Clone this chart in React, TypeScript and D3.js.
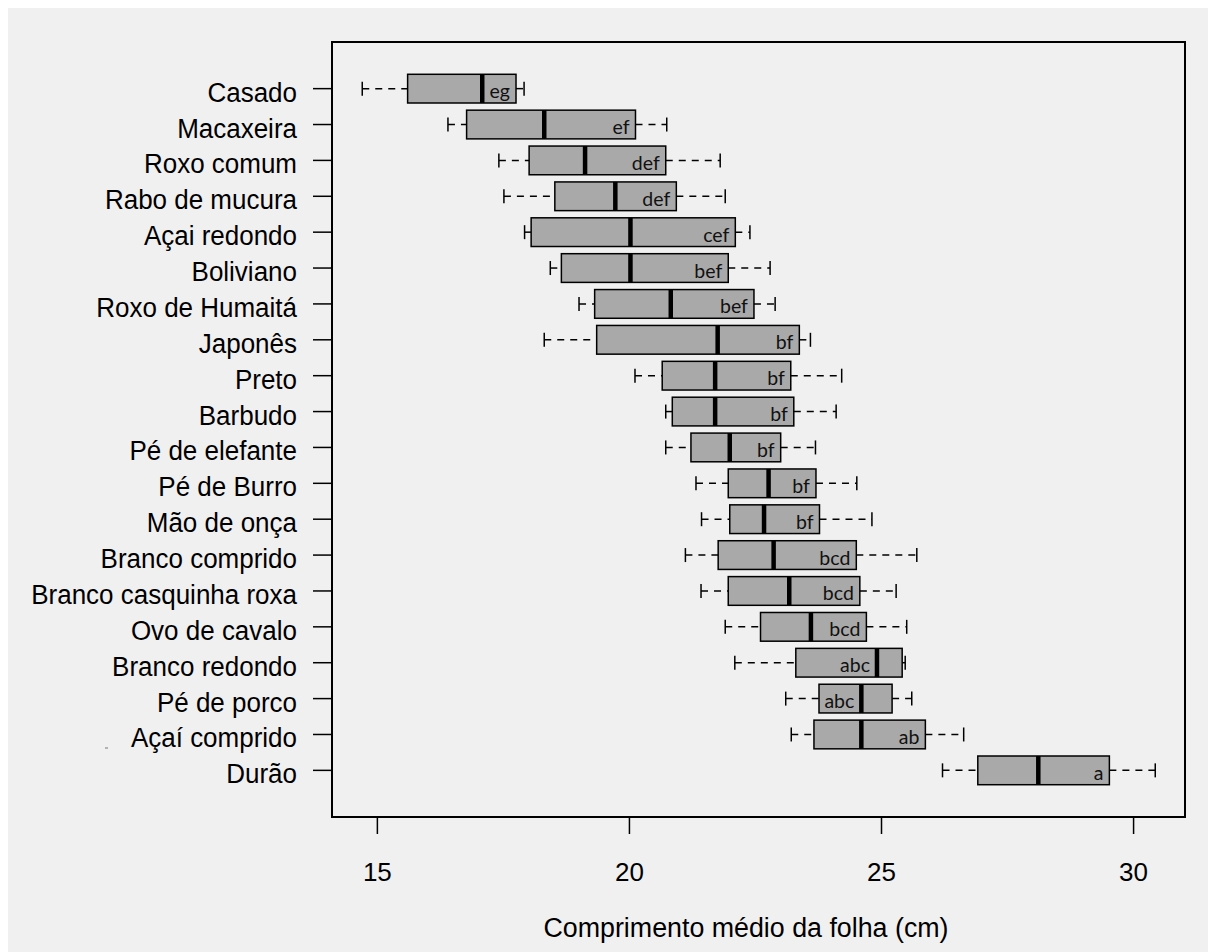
import React from "react";
import * as d3 from "d3";

const categories = [
  "Casado", "Macaxeira", "Roxo comum", "Rabo de mucura", "Açai redondo",
  "Boliviano", "Roxo de Humaitá", "Japonês", "Preto", "Barbudo",
  "Pé de elefante", "Pé de Burro", "Mão de onça", "Branco comprido",
  "Branco casquinha roxa", "Ovo de cavalo", "Branco redondo", "Pé de porco",
  "Açaí comprido", "Durão",
];
const whiskerLow = [14.70, 16.40, 17.41, 17.51, 17.92, 18.43, 19.00, 18.31, 20.11, 20.72, 20.72, 21.32, 21.43, 21.11, 21.42, 21.90, 22.09, 23.10, 23.21, 26.21];
const q1 = [15.60, 16.77, 18.01, 18.52, 18.05, 18.65, 19.31, 19.35, 20.65, 20.85, 21.22, 21.96, 21.99, 21.76, 21.96, 22.60, 23.30, 23.76, 23.66, 26.91];
const median = [17.08, 18.31, 19.12, 19.72, 20.02, 20.02, 20.82, 21.75, 21.70, 21.70, 21.99, 22.76, 22.67, 22.86, 23.17, 23.60, 24.91, 24.60, 24.60, 28.11];
const q3 = [17.75, 20.12, 20.72, 20.93, 22.10, 21.96, 22.47, 23.37, 23.20, 23.26, 23.00, 23.70, 23.77, 24.50, 24.57, 24.70, 25.41, 25.21, 25.87, 29.52];
const whiskerHigh = [17.91, 20.74, 21.80, 21.90, 22.39, 22.79, 22.89, 23.59, 24.21, 24.10, 23.69, 24.51, 24.81, 25.70, 25.29, 25.50, 25.47, 25.60, 26.63, 30.43];
const groupLetters = ["eg", "ef", "def", "def", "cef", "bef", "bef", "bf", "bf", "bf", "bf", "bf", "bf", "bcd", "bcd", "bcd", "abc", "abc", "ab", "a"];
const xTicks = [15, 20, 25, 30];
const xTitle = "Comprimento médio da folha (cm)";

const W = 1208;
const H = 944;
const left = 324; // panel left in svg coords (332 page)
const right = 1177;
const top = 34;
const bottom = 809;

export default function App() {
  const x = d3.scaleLinear().domain([14.1, 31.02]).range([left, right]);
  const y = d3.scaleLinear().domain([-0.3, categories.length + 0.5 + 0.8]).range([top, bottom]);
  const half = (y(1) - y(0)) * 0.4;
  const labelFont = "'Liberation Sans', Arial, Helvetica, sans-serif";
  const letterFont = "Lato, 'Open Sans', sans-serif";

  return (
    <svg width={W} height={H} style={{ display: "block" }}>
      <rect x={0} y={0} width={W} height={H} fill="#f0f0f0" />
      {categories.map((c, i) => {
        const cy = y(i + 1);
        const xl = x(whiskerLow[i]);
        const x1 = x(q1[i]);
        const xm = x(median[i]);
        const x3 = x(q3[i]);
        const xh = x(whiskerHigh[i]);
        const letters = groupLetters[i];
        const estW = letters.length * 10;
        const fitsRight = x3 - xm > estW + 12;
        const tx = fitsRight ? x3 - 6 : xm - 7;
        return (
          <g key={c}>
            <line x1={xl} x2={x1} y1={cy} y2={cy} stroke="#000" strokeWidth={1.5} strokeDasharray="7,6" />
            <line x1={x3} x2={xh} y1={cy} y2={cy} stroke="#000" strokeWidth={1.5} strokeDasharray="7,6" />
            <line x1={xl} x2={xl} y1={cy - 7} y2={cy + 7} stroke="#000" strokeWidth={1.5} />
            <line x1={xh} x2={xh} y1={cy - 7} y2={cy + 7} stroke="#000" strokeWidth={1.5} />
            <rect x={x1} y={cy - half} width={x3 - x1} height={half * 2} fill="#a9a9a9" stroke="#000" strokeWidth={1.5} />
            <line x1={xm} x2={xm} y1={cy - half} y2={cy + half} stroke="#000" strokeWidth={4.5} />
            <text x={tx} y={cy + 9.5} textAnchor="end" fontFamily={letterFont} fontSize={19.5} fill="#111">
              {letters}
            </text>
            <line x1={left - 19} x2={left} y1={cy} y2={cy} stroke="#000" strokeWidth={1.5} />
            <text transform={`translate(289,${cy + 13}) scale(1,1.07)`} textAnchor="end" fontFamily={labelFont} fontSize={26} fill="#000">
              {c}
            </text>
          </g>
        );
      })}
      <rect x={left} y={top} width={right - left} height={bottom - top} fill="none" stroke="#000" strokeWidth={2} />
      {xTicks.map((t) => (
        <g key={t}>
          <line x1={x(t)} x2={x(t)} y1={bottom} y2={bottom + 17} stroke="#000" strokeWidth={1.5} />
          <text x={x(t)} y={873} textAnchor="middle" fontFamily={labelFont} fontSize={26} fill="#000">
            {t}
          </text>
        </g>
      ))}
      <text x={738} y={929} textAnchor="middle" fontFamily={labelFont} fontSize={26.8} fill="#000">
        {xTitle}
      </text>
      <line x1={97} x2={100} y1={740} y2={740} stroke="#777" strokeWidth={1} />
    </svg>
  );
}
